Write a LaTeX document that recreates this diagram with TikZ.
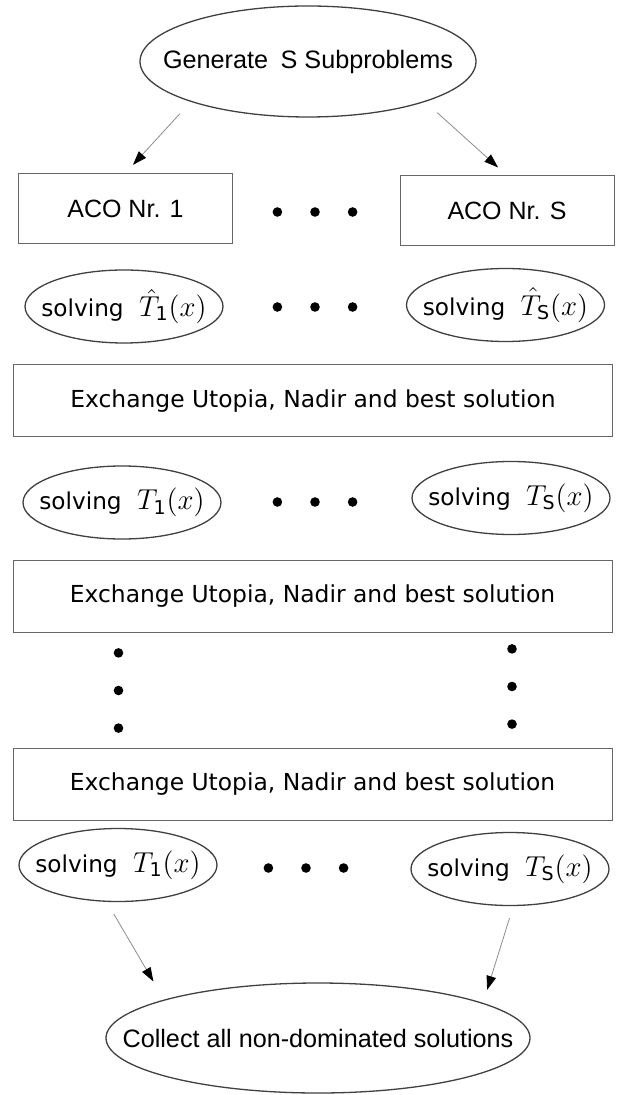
\documentclass[tikz,border=0pt]{standalone}
\usepackage{fontspec}
\usepackage{amsmath}
\newfontfamily\arialfont{Liberation Sans}
\newfontfamily\dejavufont{DejaVu Sans}
\usetikzlibrary{shapes.geometric, arrows.meta, positioning}
\newcommand{\nowide}[1]{\makebox[0pt]{#1}}
\newcommand{\Tsub}[2]{{\fontsize{13.6}{15}\selectfont$#1_{\text{\dejavufont #2}}(x)$}}
\tikzset{
  oval/.style={ellipse, draw=black!75, line width=0.65pt, inner sep=0pt},
  solve/.style={oval, minimum width=99pt, minimum height=36.5pt,
    font=\dejavufont\fontsize{11.6}{14}\selectfont},
  acobox/.style={rectangle, draw=black!60, line width=0.5pt,
    minimum width=107pt, minimum height=35pt,
    font=\arialfont\fontsize{12.5}{15}\selectfont},
  xchg/.style={rectangle, draw=black!60, line width=0.5pt,
    minimum width=299.5pt, minimum height=36pt,
    font=\dejavufont\fontsize{11.7}{14}\selectfont},
  bigdot/.style={circle, fill=black, inner sep=0pt, outer sep=0pt, minimum size=4.8pt},
  arrow/.style={draw=black!45, line width=0.4pt,
    -{Triangle[length=7pt, width=4.8pt, black]}},
}
\begin{document}
\begin{tikzpicture}[x=0.5pt, y=-0.5pt]
  \useasboundingbox (0,0) rectangle (622,1095);

  \node[oval, minimum width=168pt, minimum height=55.5pt,
    font=\arialfont\fontsize{12.6}{15}\selectfont] (gen) at (308,61.5)
    {\nowide{Generate\enspace S Subproblems}};

  \node[acobox] (aco1) at (125.5,208.5) {ACO Nr. 1};
  \node[acobox] (acoS) at (507,211) {ACO Nr. S};

  \node[solve] (hat1) at (124,306.5) {\nowide{solving\hspace{4pt} \Tsub{\hat{T}}{1}}};
  \node[solve] (hatS) at (505.5,305) {\nowide{solving\hspace{4pt} \Tsub{\hat{T}}{S}}};

  \node[xchg] (ex1) at (313,401) {Exchange Utopia, Nadir and best solution};

  \node[solve] (sol1a) at (122,502.5) {\nowide{solving\hspace{4pt} \Tsub{T}{1}}};
  \node[solve] (solSa) at (511,498) {\nowide{solving\hspace{4pt} \Tsub{T}{S}}};

  \node[xchg] (ex2) at (312.5,596) {Exchange Utopia, Nadir and best solution};
  \node[xchg] (ex3) at (312.5,784) {Exchange Utopia, Nadir and best solution};

  \node[solve] (sol1b) at (118,865) {\nowide{solving\hspace{4pt} \Tsub{T}{1}}};
  \node[solve] (solSb) at (510,869) {\nowide{solving\hspace{4pt} \Tsub{T}{S}}};

  \node[oval, minimum width=212pt, minimum height=55pt,
    font=\arialfont\fontsize{12.6}{15}\selectfont] (collect) at (318,1038)
    {\nowide{Collect all non-dominated solutions}};

  % rows of dots between the two columns
  \foreach \name/\px/\py in {acod/315/212, hatd/315/307, solad/315/502, solbd/306/868} {
    \node[bigdot] (\name2) at (\px,\py) {};
    \node[bigdot, left=14pt of \name2] (\name1) {};
    \node[bigdot, right=14pt of \name2] (\name3) {};
  }
  % vertical dots
  \node[bigdot] (vl2) at (118.5,690.5) {};
  \node[bigdot, above=14pt of vl2] (vl1) {};
  \node[bigdot, below=14pt of vl2] (vl3) {};
  \node[bigdot] (vr2) at (512,686.5) {};
  \node[bigdot, above=14pt of vr2] (vr1) {};
  \node[bigdot, below=14pt of vr2] (vr3) {};

  \draw[arrow, shorten <=8pt, shorten >=5.5pt] (gen.199) -- (aco1.north);
  \draw[arrow, shorten <=8pt, shorten >=6pt] (gen.341) -- (acoS.north);
  \draw[arrow, shorten <=7pt, shorten >=10.5pt] (sol1b.253) -- (collect.166);
  \draw[arrow, shorten <=6.3pt, shorten >=6.8pt] (solSb.275) -- (collect.12);
\end{tikzpicture}
\end{document}
